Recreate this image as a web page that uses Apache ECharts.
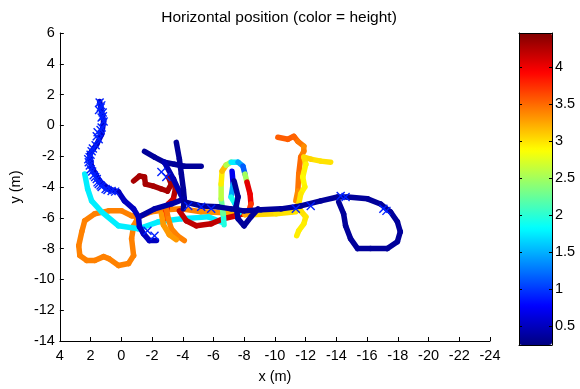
<!DOCTYPE html>
<html>
<head>
<meta charset="utf-8">
<script src="https://cdn.jsdelivr.net/npm/echarts@6/dist/echarts.min.js"></script>
<style>html,body{margin:0;padding:0;background:#fff;}#c{width:580px;height:389px;}</style>
</head>
<body>
<div id="c"></div>
<script>
// Axis ticks
const xTicks = [4, 2, 0, -2, -4, -6, -8, -10, -12, -14, -16, -18, -20, -22, -24];
const yTicks = [6, 4, 2, 0, -2, -4, -6, -8, -10, -12, -14];
const colorTicks = [0.5, 1, 1.5, 2, 2.5, 3, 3.5, 4];
const heightMin = 0.24, heightMax = 4.46;

// Trajectories: [x, y, height]
const trajOrangeLoop = [
  [-1.12,-5.94,3.4],[-0.67,-5.87,3.4],[-0.02,-5.55,3.4],[0.82,-5.55,3.4],[1.73,-5.74,3.4],
  [2.38,-6.19,3.4],[2.57,-6.90,3.4],[2.77,-7.81,3.4],[2.70,-8.45,3.4],[2.25,-8.77,3.4],
  [1.73,-8.77,3.4],[1.15,-8.52,3.4],[0.82,-8.65,3.4],[0.18,-9.10,3.4],[-0.47,-8.97,3.4],
  [-0.80,-8.45,3.4],[-0.67,-7.35,3.4],[-0.80,-6.52,3.4],[-1.12,-5.94,3.4],
  [-1.96,-5.61,3.4],[-2.93,-5.48,3.4],[-3.91,-5.42,3.4],[-5.20,-5.61,3.4],[-6.82,-5.68,3.3],
  [-8.44,-5.81,3.1],[-10.06,-5.74,3.0],[-11.36,-5.61,3.0]
];
const trajCyan = [
  [2.38,-3.16,1.75],[2.19,-4.13,1.75],[1.93,-4.90,1.75],[1.28,-5.61,1.75],[0.18,-6.52,1.75],
  [-1.12,-6.71,1.75],[-2.42,-6.26,1.75],[-3.91,-6.06,1.75],[-5.66,-5.94,1.75],[-6.63,-6.32,1.75]
];
const trajDarkRed = [
  [-0.80,-3.61,4.3],[-1.18,-3.29,4.3],[-1.51,-3.35,4.3],[-1.57,-3.81,4.3],[-2.09,-3.94,4.3],
  [-2.61,-4.13,4.3],[-3.00,-4.26,4.3],[-3.26,-3.81,4.3],[-3.06,-3.35,4.3],[-3.39,-3.48,4.3],
  [-3.52,-4.13,4.3],[-3.39,-4.77,4.2],[-3.06,-5.10,4.1],[-2.93,-5.55,3.9],[-2.80,-6.06,3.8]
];
const trajDarkRedLow = [
  [-3.78,-5.55,4.2],[-4.23,-6.19,4.2],[-4.88,-6.52,4.2],[-5.85,-6.39,4.2],[-6.63,-6.06,4.2],
  [-7.47,-5.87,4.1],[-8.12,-5.68,4.0]
];
const trajOrangeDown1 = [
  [-2.93,-5.42,3.5],[-3.06,-6.06,3.4],[-3.26,-6.71,3.4],[-3.65,-7.16,3.4],[-4.10,-7.48,3.4]
];
const trajOrangeDown2 = [
  [-2.61,-5.74,3.3],[-2.74,-6.45,3.3],[-3.13,-7.10,3.3],[-3.58,-7.42,3.3]
];
const trajLoopOuter = [
  [-6.69,-6.45,1.8],[-6.63,-5.74,2.1],[-6.50,-4.77,2.4],[-6.50,-3.81,2.8],[-6.56,-2.97,3.1],
  [-6.82,-2.58,3.2],[-7.15,-2.39,1.9],[-7.60,-2.39,1.6],[-7.92,-2.65,1.3],[-8.05,-3.16,1.0],
  [-8.18,-3.68,4.0],[-8.38,-4.45,4.1],[-8.44,-5.10,3.9],[-8.31,-5.55,3.5],[-8.05,-5.81,3.0]
];
const trajLoopInner = [
  [-7.21,-2.97,0.6],[-7.28,-3.81,0.8],[-7.15,-4.65,2.1],[-7.41,-5.10,1.7],[-7.67,-5.68,1.7]
];
const trajOrangeTop = [
  [-10.19,-0.77,3.55],[-10.84,-0.90,3.55],[-11.23,-0.71,3.55],[-11.49,-1.03,3.5],[-11.88,-1.35,3.4],
  [-11.88,-1.68,3.3],[-11.68,-2.06,3.5],[-11.55,-3.16,3.5],[-11.49,-4.26,3.4],[-11.36,-4.90,3.3]
];
const trajYellow = [
  [-13.63,-2.39,3.0],[-12.98,-2.32,3.0],[-12.33,-2.19,3.0],[-11.88,-2.06,3.1],[-12.01,-2.52,2.95],
  [-11.81,-3.35,2.9],[-11.94,-4.00,2.9],[-11.68,-4.45,2.95],[-11.55,-5.10,3.0],[-11.68,-5.55,3.0],
  [-12.01,-5.94,3.0],[-11.88,-6.39,2.95],[-11.55,-6.84,2.95],[-11.42,-7.16,2.95]
];
const trajBlueUpper = [
  [-1.51,-1.68,0.35],[-2.16,-2.06,0.35],[-2.80,-2.39,0.35],[-3.45,-2.52,0.35],[-4.10,-2.65,0.35],[-5.20,-2.65,0.35]
];
const trajBlueDiag = [
  [-2.80,-2.39,0.45],[-3.39,-3.48,0.45],[-3.91,-4.58,0.45]
];
const trajBlueVertical = [
  [-3.58,-1.10,0.35],[-3.78,-2.19,0.35],[-3.91,-3.16,0.35],[-4.04,-4.13,0.35],[-4.10,-4.77,0.35],[-4.04,-5.42,0.35]
];
const trajBlueHub = [
  [-4.10,-4.77,0.4],[-3.26,-5.10,0.4],[-2.16,-5.42,0.4],[-1.31,-5.87,0.4]
];
const trajBlueLong = [
  [-4.10,-4.97,0.35],[-5.20,-5.23,0.35],[-6.30,-5.29,0.35],[-7.15,-5.42,0.35],[-7.99,-5.55,0.35],
  [-9.09,-5.48,0.35],[-10.39,-5.42,0.35],[-11.68,-5.23,0.35],[-12.98,-4.90,0.35],[-14.08,-4.65,0.35],
  [-14.73,-4.65,0.35],[-16.03,-4.77,0.35],[-16.87,-5.10,0.35],[-17.52,-5.61,0.35],[-17.97,-6.26,0.35],
  [-18.16,-6.90,0.35],[-17.97,-7.55,0.35],[-17.32,-8.00,0.35],[-16.22,-8.00,0.35],[-15.38,-8.00,0.35],
  [-14.92,-7.35,0.35],[-14.60,-6.52,0.35],[-14.47,-5.74,0.35],[-14.15,-4.97,0.35]
];
const trajBlueV = [
  [-7.34,-3.61,0.35],[-7.60,-4.65,0.35],[-7.47,-5.29,0.35],[-7.60,-6.06,0.35],[-7.99,-6.52,0.35],
  [-8.44,-5.94,0.35],[-8.90,-5.42,0.35]
];
const trajBlueLeft = [
  [1.41,1.55,0.55],[1.15,0.26,0.55],[1.28,-0.58,0.55],[1.60,-1.23,0.55],[2.06,-1.87,0.55],
  [1.93,-2.71,0.55],[1.41,-3.61,0.55],[0.82,-4.13,0.55],[0.18,-4.32,0.5],[-0.21,-4.90,0.5],
  [-0.80,-5.42,0.5],[-1.12,-5.94,0.5],[-1.18,-6.58,0.5],[-1.44,-7.03,0.5],[-1.83,-7.48,0.5],[-2.29,-7.48,0.5]
];
// "x" markers: [x, y, height]
const markers = [
  [1.41,1.48,0.9],[1.34,1.16,0.9],[1.21,0.84,0.9],[1.28,0.52,0.9],[1.15,0.26,0.9],
  [1.28,-0.13,0.9],[1.54,-0.45,0.9],[1.47,-0.90,0.9],[1.67,-1.29,0.9],[1.93,-1.68,0.9],
  [2.06,-2.06,0.9],[2.12,-2.39,0.9],[1.99,-2.84,0.9],[1.80,-3.23,0.9],[1.60,-3.48,0.9],
  [1.47,-3.81,0.9],[1.28,-4.00,0.9],[1.02,-4.13,0.9],[0.63,-4.26,0.9],
  [1.30,1.30,0.9],[1.45,1.00,0.9],[1.20,0.60,0.9],[1.35,-0.30,0.9],[1.60,-0.70,0.9],
  [1.85,-1.50,0.9],[2.00,-1.90,0.9],[2.15,-2.20,0.9],[2.05,-2.60,0.9],[1.90,-3.00,0.9],
  [1.70,-3.35,0.9],[1.55,-3.70,0.9],[1.35,-3.90,0.9],[0.90,-4.20,0.9],[0.40,-4.30,0.9],
  [-2.61,-3.03,0.9],[-2.93,-3.35,0.9],[-2.16,-7.16,0.9],[-1.70,-6.84,0.9],
  [-4.36,-5.23,0.9],[-5.20,-5.29,0.9],[-5.85,-5.42,0.9],[-11.36,-5.42,0.9],[-12.33,-5.23,0.9],
  [-14.28,-4.58,0.9],[-14.60,-4.65,0.9],[-17.06,-5.42,0.9],[-17.26,-5.55,0.9]
];

const trajectories = [
  trajOrangeLoop, trajCyan, trajDarkRed, trajDarkRedLow, trajOrangeDown1, trajOrangeDown2,
  trajLoopOuter, trajLoopInner, trajOrangeTop, trajYellow,
  trajBlueUpper, trajBlueDiag, trajBlueVertical, trajBlueHub, trajBlueLong, trajBlueV, trajBlueLeft
];
const segments = [];
trajectories.forEach(t => {
  for (let i = 0; i < t.length - 1; i++) {
    segments.push([t[i][0], t[i][1], t[i+1][0], t[i+1][1], (t[i][2] + t[i+1][2]) / 2]);
  }
});

const jet = ['#000080','#0000ff','#0080ff','#00ffff','#80ff80','#ffff00','#ff8000','#ff0000','#800000'];
const FONT = 'Liberation Sans';
const FS = 14.5;
const chart = echarts.init(document.getElementById('c'), null, {renderer: 'canvas'});
chart.setOption({
  animation: false,
  backgroundColor: '#fff',
  title: {
    text: 'Horizontal position (color = height)',
    left: 274, top: 5, textAlign: 'center',
    textStyle: {fontFamily: FONT, fontSize: 15.5, fontWeight: 'normal', color: '#000'}
  },
  grid: [
    {left: 58, top: 33, width: 432, height: 310},
    {left: 519, top: 33, width: 33, height: 312}
  ],
  xAxis: [
    {type: 'value', gridIndex: 0, inverse: true, min: -24, max: 4, interval: 2,
     name: 'x (m)', nameLocation: 'middle', nameGap: 28,
     nameTextStyle: {fontFamily: FONT, fontSize: FS, color: '#000'},
     axisLine: {show: true, onZero: false, lineStyle: {color: '#000', width: 1}},
     axisTick: {show: true, inside: true, length: 4, lineStyle: {color: '#000'}},
     axisLabel: {fontFamily: FONT, fontSize: FS, color: '#000', margin: 7},
     splitLine: {show: false}},
    {type: 'value', gridIndex: 1, min: 0, max: 1, position: 'bottom', z: 6,
     axisLine: {show: true, onZero: false, lineStyle: {color: '#000'}}, axisTick: {show: false}, axisLabel: {show: false}, splitLine: {show: false}},
    {type: 'value', gridIndex: 1, min: 0, max: 1, position: 'top', z: 6,
     axisLine: {show: true, onZero: false, lineStyle: {color: '#000'}}, axisTick: {show: false}, axisLabel: {show: false}, splitLine: {show: false}}
  ],
  yAxis: [
    {type: 'value', gridIndex: 0, min: -14, max: 6, interval: 2,
     name: 'y (m)', nameLocation: 'middle', nameGap: 36,
     nameTextStyle: {fontFamily: FONT, fontSize: FS, color: '#000'},
     axisLine: {show: true, onZero: false, lineStyle: {color: '#000', width: 1}},
     axisTick: {show: true, inside: true, length: 4, lineStyle: {color: '#000'}},
     axisLabel: {fontFamily: FONT, fontSize: FS, color: '#000', margin: 5},
     splitLine: {show: false}},
    {type: 'value', gridIndex: 1, min: heightMin, max: heightMax, position: 'right', z: 6,
     axisLine: {show: true, onZero: false, lineStyle: {color: '#000'}},
     axisTick: {show: true, inside: true, length: 3, customValues: colorTicks, lineStyle: {color: '#000'}},
     axisLabel: {fontFamily: FONT, fontSize: FS, color: '#000', margin: 3, customValues: colorTicks},
     splitLine: {show: false}},
    {type: 'value', gridIndex: 1, min: heightMin, max: heightMax, position: 'left', z: 6,
     axisLine: {show: true, onZero: false, lineStyle: {color: '#000'}},
     axisTick: {show: true, inside: true, length: 3, customValues: colorTicks, lineStyle: {color: '#000'}},
     axisLabel: {show: false},
     splitLine: {show: false}}
  ],
  visualMap: [
    {type: 'continuous', min: heightMin, max: heightMax, dimension: 4, seriesIndex: 0,
     left: 519, top: 33, itemWidth: 33, itemHeight: 312, padding: 0, calculable: false,
     hoverLink: false, text: null, z: 1,
     inRange: {color: jet}},
    {type: 'continuous', show: false, min: heightMin, max: heightMax, dimension: 2, seriesIndex: 1,
     inRange: {color: jet}}
  ],
  series: [
    {type: 'custom', xAxisIndex: 0, yAxisIndex: 0, data: segments, clip: true,
     encode: {x: [0, 2], y: [1, 3]},
     renderItem: function (params, api) {
       const p1 = api.coord([api.value(0), api.value(1)]);
       const p2 = api.coord([api.value(2), api.value(3)]);
       return {type: 'line', shape: {x1: p1[0], y1: p1[1], x2: p2[0], y2: p2[1]},
               style: {stroke: api.visual('color'), lineWidth: 5.5, lineCap: 'round', fill: null}};
     }},
    {type: 'custom', xAxisIndex: 0, yAxisIndex: 0, data: markers, clip: true,
     encode: {x: 0, y: 1},
     renderItem: function (params, api) {
       const p = api.coord([api.value(0), api.value(1)]);
       const s = 4, c = api.visual('color');
       return {type: 'group', children: [
         {type: 'line', shape: {x1: p[0]-s, y1: p[1]-s, x2: p[0]+s, y2: p[1]+s}, style: {stroke: c, lineWidth: 1.4}},
         {type: 'line', shape: {x1: p[0]-s, y1: p[1]+s, x2: p[0]+s, y2: p[1]-s}, style: {stroke: c, lineWidth: 1.4}}
       ]};
     }}
  ]
});
</script>
</body>
</html>
